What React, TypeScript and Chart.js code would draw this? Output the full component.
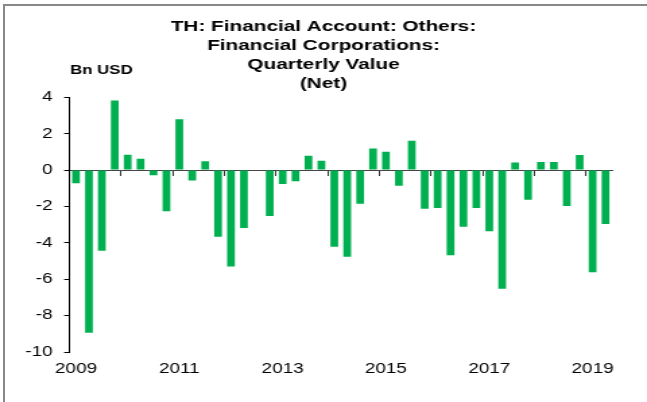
import React, { useEffect, useRef } from "react";
import { Chart, registerables } from "chart.js";

Chart.register(...registerables);

const quarters = [
  "2009 Q1", "2009 Q2", "2009 Q3", "2009 Q4",
  "2010 Q1", "2010 Q2", "2010 Q3", "2010 Q4",
  "2011 Q1", "2011 Q2", "2011 Q3", "2011 Q4",
  "2012 Q1", "2012 Q2", "2012 Q3", "2012 Q4",
  "2013 Q1", "2013 Q2", "2013 Q3", "2013 Q4",
  "2014 Q1", "2014 Q2", "2014 Q3", "2014 Q4",
  "2015 Q1", "2015 Q2", "2015 Q3", "2015 Q4",
  "2016 Q1", "2016 Q2", "2016 Q3", "2016 Q4",
  "2017 Q1", "2017 Q2", "2017 Q3", "2017 Q4",
  "2018 Q1", "2018 Q2", "2018 Q3", "2018 Q4",
  "2019 Q1", "2019 Q2",
];

const netValues = [
  -0.73, -8.94, -4.44, 3.83,
  0.84, 0.62, -0.28, -2.26,
  2.79, -0.57, 0.48, -3.67,
  -5.3, -3.19, 0, -2.53,
  -0.77, -0.62, 0.79, 0.51,
  -4.22, -4.77, -1.85, 1.19,
  1.01, -0.86, 1.61, -2.13,
  -2.09, -4.68, -3.12, -2.09,
  -3.36, -6.53, 0.42, -1.63,
  0.44, 0.44, -1.98, 0.83,
  -5.61, -2.97,
];

const yearTickLabels = ["2009", "2011", "2013", "2015", "2017", "2019"];

const titleLines = [
  "TH: Financial Account: Others:",
  "Financial Corporations:",
  "Quarterly Value",
  "(Net)",
];
const unitLabel = "Bn USD";

const FONT = '"Liberation Sans", Arial, Helvetica, sans-serif';
const CANVAS_W = 480;
const CANVAS_H = 402;
const STRETCH = 647 / CANVAS_W;

const unitPlugin = {
  id: "unitLabel",
  afterDraw(chart: any) {
    const { ctx, chartArea } = chart;
    ctx.save();
    ctx.font = `bold 12.5px ${FONT}`;
    ctx.fillStyle = "#000";
    ctx.textAlign = "left";
    ctx.textBaseline = "middle";
    ctx.fillText(unitLabel, chartArea.left + 0.3, chartArea.top - 26.5);
    ctx.restore();
  },
};

export default function App() {
  const canvasRef = useRef<HTMLCanvasElement | null>(null);

  useEffect(() => {
    if (!canvasRef.current) return;
    const chart = new Chart(canvasRef.current, {
      type: "bar",
      data: {
        labels: quarters,
        datasets: [
          {
            data: netValues,
            backgroundColor: "#00B050",
            borderWidth: 0,
            barPercentage: 0.6,
            categoryPercentage: 1.0,
          },
        ],
      },
      plugins: [unitPlugin],
      options: {
        responsive: false,
        animation: false,
        devicePixelRatio: 1,
        layout: { padding: 0 },
        plugins: {
          legend: { display: false },
          tooltip: { enabled: false },
          title: {
            display: true,
            text: titleLines,
            color: "#000",
            font: { family: FONT, size: 15.4, weight: "bold", lineHeight: 19 / 15.4 },
            padding: { top: 17.7, bottom: 3.6 },
          },
        },
        scales: {
          x: {
            type: "category",
            position: "bottom",
            offset: true,
            grid: { display: false, offset: true },
            border: { display: false },
            ticks: {
              autoSkip: false,
              maxRotation: 0,
              minRotation: 0,
              padding: 1,
              color: "#000",
              font: { family: FONT, size: 14 },
              callback: (_v: any, i: number) => {
                const q = quarters[i];
                const year = q.slice(0, 4);
                return q.endsWith("Q1") && yearTickLabels.includes(year) ? year : "";
              },
            },
            afterFit: (scale: any) => {
              scale.height = 50;
            },
          },
          x2: {
            type: "category",
            position: { y: 0 },
            offset: true,
            grid: {
              offset: true,
              drawOnChartArea: false,
              drawTicks: true,
              tickLength: 5,
              lineWidth: 1,
              color: (ctx: any) =>
                ctx.index > 0 && ctx.index < quarters.length && ctx.index % 4 === 0
                  ? "#333"
                  : "rgba(0,0,0,0)",
            },
            border: { display: true, color: "#444", width: 1 },
            ticks: { display: false },
          },
          y: {
            min: -10,
            max: 4,
            position: "left",
            ticks: {
              stepSize: 2,
              padding: 8.6,
              color: "#000",
              font: { family: FONT, size: 14 },
            },
            grid: {
              drawOnChartArea: false,
              drawTicks: true,
              tickLength: 4,
              color: "#000",
            },
            border: { display: true, color: "#000", width: 1 },
            afterFit: (scale: any) => {
              scale.width = 51.6;
            },
          },
          yRight: {
            position: "right",
            display: true,
            min: -10,
            max: 4,
            grid: { display: false },
            border: { display: false },
            ticks: { display: false },
            afterFit: (scale: any) => {
              scale.width = 26;
            },
          },
        },
      },
    } as any);
    return () => chart.destroy();
  }, []);

  return (
    <div
      style={{
        position: "absolute",
        left: 0,
        top: 0,
        width: 647,
        height: 402,
        overflow: "hidden",
        background: "#fff",
      }}
    >
      <div
        style={{
          position: "absolute",
          left: 0,
          top: 0,
          width: CANVAS_W,
          height: CANVAS_H,
          transform: `scaleX(${STRETCH})`,
          transformOrigin: "0 0",
        }}
      >
        <canvas
          ref={canvasRef}
          width={CANVAS_W}
          height={CANVAS_H}
          style={{ width: CANVAS_W, height: CANVAS_H, display: "block" }}
        />
      </div>
      <div
        style={{
          position: "absolute",
          left: 3,
          top: 4,
          width: 700,
          height: 500,
          borderLeft: "2px solid #888",
          borderTop: "2px solid #888",
          pointerEvents: "none",
        }}
      />
    </div>
  );
}
